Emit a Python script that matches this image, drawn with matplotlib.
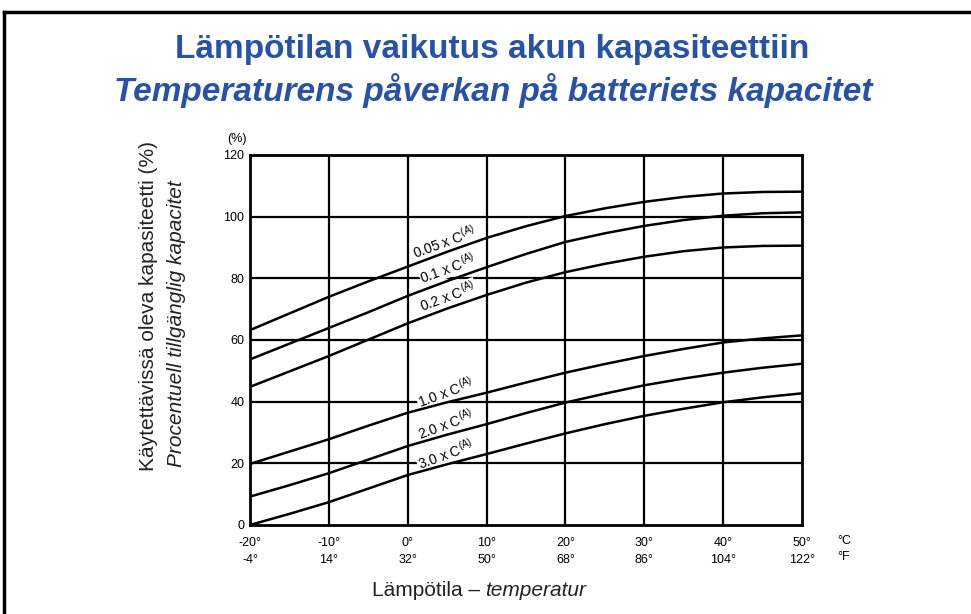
import matplotlib
matplotlib.use('Agg')
import matplotlib.pyplot as plt
from matplotlib.lines import Line2D

plt.rcParams['font.family'] = ['Liberation Sans', 'DejaVu Sans']
plt.rcParams['mathtext.default'] = 'regular'

# Data
temps_c = [-20, -15, -10, -5, 0, 5, 10, 15, 20, 25, 30, 35, 40, 45, 50]
cap_005 = [63.2, 68.6, 74.0, 79.0, 83.8, 88.6, 93.1, 96.9, 100.2, 102.7, 104.8, 106.4, 107.5, 108.0, 108.1]
cap_01 = [53.7, 58.8, 63.9, 69.0, 74.3, 79.1, 83.6, 87.9, 91.8, 94.6, 97.0, 98.9, 100.3, 101.1, 101.4]
cap_02 = [44.8, 49.8, 54.8, 60.1, 65.4, 70.2, 74.6, 78.6, 82.0, 84.7, 87.0, 88.8, 90.0, 90.5, 90.6]
cap_10 = [19.8, 23.8, 27.8, 32.2, 36.4, 39.8, 42.9, 46.2, 49.4, 52.2, 54.8, 57.1, 59.2, 60.5, 61.5]
cap_20 = [9.2, 12.9, 16.8, 21.2, 25.6, 29.3, 32.7, 36.3, 39.7, 42.6, 45.3, 47.5, 49.4, 51.0, 52.3]
cap_30 = [0.0, 3.6, 7.4, 11.8, 16.2, 19.7, 23.0, 26.4, 29.7, 32.7, 35.4, 37.7, 39.8, 41.4, 42.7]
series = [cap_005, cap_01, cap_02, cap_10, cap_20, cap_30]
series_labels = ['0.05 x C$^{(A)}$', '0.1 x C$^{(A)}$', '0.2 x C$^{(A)}$',
                 '1.0 x C$^{(A)}$', '2.0 x C$^{(A)}$', '3.0 x C$^{(A)}$']
label_pos = [(4.6, 91.9), (5.1, 83.4), (5.1, 74.2), (4.8, 43.0), (4.8, 32.8), (4.8, 22.8)]

xticks_c = [-20, -10, 0, 10, 20, 30, 40, 50]
xticks_f = [-4, 14, 32, 50, 68, 86, 104, 122]
yticks = [0, 20, 40, 60, 80, 100, 120]

fig = plt.figure(figsize=(9.71, 6.14), dpi=100)
ax = fig.add_axes([0.2575, 0.145, 0.5685, 0.6026])

# grid
for x in xticks_c[1:-1]:
    ax.axvline(x, color='black', lw=1.6, zorder=1)
for y in yticks[1:-1]:
    ax.axhline(y, color='black', lw=1.6, zorder=1)

for vals in series:
    ax.plot(temps_c, vals, color='black', lw=1.8, zorder=3)

for lab, (lx, ly) in zip(series_labels, label_pos):
    ax.text(lx, ly, lab, fontsize=10, rotation=20, ha='center', va='center',
            zorder=2, bbox=dict(facecolor='white', edgecolor='none', pad=0.5))

ax.set_xlim(-20, 50)
ax.set_ylim(0, 120)
ax.set_xticks(xticks_c)
ax.set_xticklabels([f'{c}°\n{f}°' for c, f in zip(xticks_c, xticks_f)], fontsize=9,
                   linespacing=1.45)
ax.set_yticks(yticks)
ax.set_yticklabels([str(v) for v in yticks], fontsize=9)
ax.tick_params(axis='y', length=0, pad=4)
ax.tick_params(axis='x', length=0, pad=9)
for s in ax.spines.values():
    s.set_linewidth(2)

ax.text(1.0 + 35 / 552, -0.028, '°C\n°F', transform=ax.transAxes, fontsize=9,
        va='top', ha='left', linespacing=1.45)
ax.text(-0.024, 1.028, '(%)', transform=ax.transAxes, fontsize=9, va='bottom', ha='center')

# titles
title_col = '#2752a6'
fig.text(0.507, 0.92, 'Lämpötilan vaikutus akun kapasiteettiin', fontsize=24,
         fontweight='bold', color=title_col, ha='center', va='center')
fig.text(0.508, 0.852, 'Temperaturens påverkan på batteriets kapacitet', fontsize=24,
         fontweight='bold', fontstyle='italic', color=title_col, ha='center', va='center')

# axis labels
fig.text(148 / 971, 1 - 471 / 614, 'Käytettävissä oleva kapasiteetti (%)', fontsize=15,
         rotation=90, rotation_mode='anchor', ha='left', va='center', color='#222222')
fig.text(177 / 971, 1 - 467 / 614, 'Procentuell tillgänglig kapacitet', fontsize=15,
         fontstyle='italic', rotation=90, rotation_mode='anchor', ha='left', va='center',
         color='#222222')
fig.text(0.5, 1 - 590 / 614, 'Lämpötila – ', fontsize=15, ha='right', va='center',
         color='#222222')
fig.text(0.5, 1 - 590 / 614, 'temperatur', fontsize=15, fontstyle='italic', ha='left',
         va='center', color='#222222')

# outer frame
fig.add_artist(Line2D([3.5 / 971, 3.5 / 971], [0, 1 - 12 / 614], transform=fig.transFigure,
                      color='black', lw=2.5))
fig.add_artist(Line2D([3.5 / 971, 1], [1 - 12 / 614, 1 - 12 / 614], transform=fig.transFigure,
                      color='black', lw=2.5))

fig.savefig('out.png', dpi=100)
